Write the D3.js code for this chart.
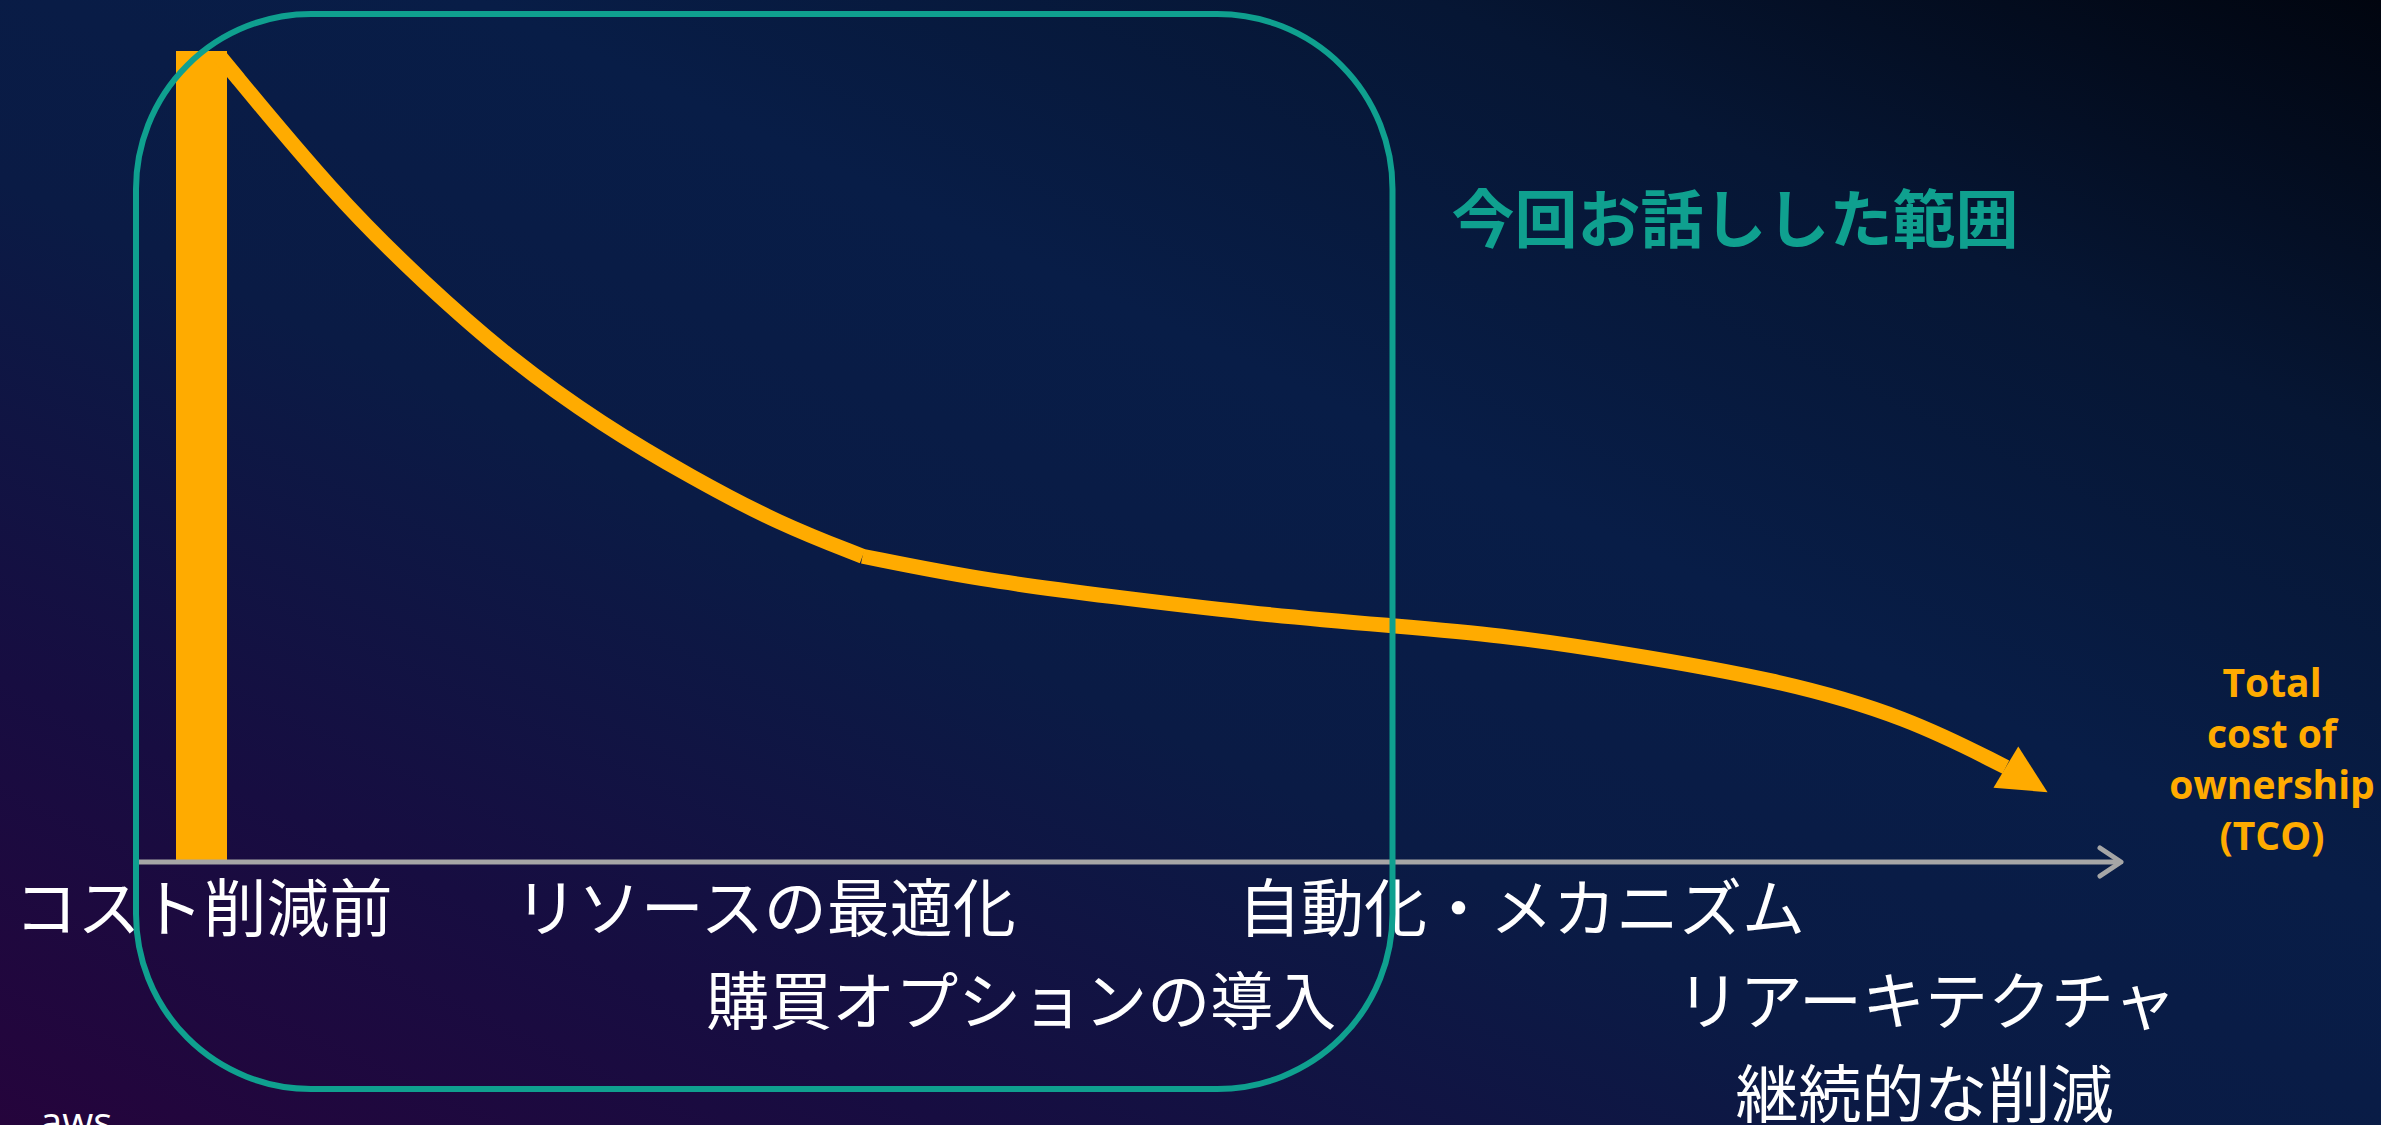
<!DOCTYPE html>
<html>
<head>
<meta charset="utf-8">
<script src="https://cdn.jsdelivr.net/npm/d3@7"></script>
<style>
  body { margin: 0; background: #0a1c45; overflow: hidden; }
</style>
</head>
<body>
<script>
const width = 2381;
const height = 1125;

// stages along the x axis (0..100 = time), row = which line the label sits on
const stages = ["コスト削減前", "リソースの最適化", "購買オプションの導入", "自動化・メカニズム", "リアーキテクチャ", "継続的な削減"];
const stageX = [3.4, 31.7, 44.6, 69.8, 90.2, 90.1];
const stageRow = [0, 0, 1, 0, 1, 2];

// cost before any reduction
const barX = 3.3;
const barValue = 100;

// TCO curve (relative cost 0..100)
const tcoX = [4.2, 10.0, 14.5, 18.9, 23.5, 28.0, 32.4, 36.6, 42.5, 49.2, 55.9, 63.4, 68.7, 74.6, 82.9, 89.2, 94.2, 96.3];
const tcoY = [99.4, 82.2, 71.4, 61.9, 53.9, 47.4, 41.7, 37.7, 34.8, 32.7, 30.7, 29.1, 28.0, 25.9, 22.4, 17.9, 11.7, 8.6];
const kink = 7;

// part of the timeline covered in the talk
const scope = [0, 63.3];
const scopeTitle = "今回お話しした範囲";
const tcoLabel = ["Total", "cost of", "ownership", "(TCO)"];

const orange = "#ffab00";
const teal = "#0fa08f";
const grey = "#a6a6a6";

const svg = d3.select("body").append("svg")
  .attr("width", width)
  .attr("height", height)
  .style("display", "block");

// background
const defs = svg.append("defs");
const bg = defs.append("linearGradient")
  .attr("id", "bg")
  .attr("x1", 0).attr("y1", 1).attr("x2", 1).attr("y2", 0);
[[0, "#25043c"], [0.2, "#170d41"], [0.42, "#0a1b45"], [0.6, "#081d47"], [0.8, "#061634"], [1, "#01050f"]]
  .forEach(([o, c]) => bg.append("stop").attr("offset", o).attr("stop-color", c));
svg.append("rect").attr("width", width).attr("height", height).attr("fill", "url(#bg)");

const x = d3.scaleLinear().domain([0, 100]).range([136, 2121]);
const y = d3.scaleLinear().domain([0, 100]).range([862, 51]);

// bar
svg.append("rect")
  .attr("x", x(barX) - 25.5)
  .attr("width", 51)
  .attr("y", y(barValue))
  .attr("height", y(0) - y(barValue))
  .attr("fill", orange);

// curve
const pts = tcoX.map((d, i) => [x(d), y(tcoY[i])]);
const line = d3.line().curve(d3.curveBasis);
const n = pts.length;
svg.append("path")
  .attr("d", line(pts.slice(0, kink + 1)))
  .attr("fill", "none").attr("stroke", orange).attr("stroke-width", 15);
svg.append("path")
  .attr("d", line(pts.slice(kink, n - 1)))
  .attr("fill", "none").attr("stroke", orange).attr("stroke-width", 15);

// arrow head on the curve
const tip = pts[n - 1], base = pts[n - 2];
const len = Math.hypot(tip[0] - base[0], tip[1] - base[1]);
const ux = (tip[0] - base[0]) / len, uy = (tip[1] - base[1]) / len;
const hw = 24;
svg.append("path")
  .attr("d", `M${tip[0]},${tip[1]}L${base[0] - uy * hw},${base[1] + ux * hw}L${base[0] + uy * hw},${base[1] - ux * hw}Z`)
  .attr("fill", orange);

// x axis
svg.append("line")
  .attr("x1", x(0)).attr("x2", x(100))
  .attr("y1", y(0)).attr("y2", y(0))
  .attr("stroke", grey).attr("stroke-width", 5);
svg.append("path")
  .attr("d", `M${x(100) - 21},${y(0) - 14}L${x(100)},${y(0)}L${x(100) - 21},${y(0) + 14}`)
  .attr("fill", "none").attr("stroke", grey).attr("stroke-width", 5)
  .attr("stroke-linecap", "round").attr("stroke-linejoin", "round");

// stage labels
const rowY = [931, 1024, 1117];
svg.selectAll("text.stage")
  .data(stages)
  .join("text")
  .attr("class", "stage")
  .attr("x", (d, i) => x(stageX[i]))
  .attr("y", (d, i) => rowY[stageRow[i]])
  .attr("text-anchor", "middle")
  .attr("font-family", "'Noto Sans CJK JP', sans-serif")
  .attr("font-weight", 400)
  .attr("font-size", 63)
  .attr("fill", "#ffffff")
  .text(d => d);

// scope box
const bx0 = x(scope[0]), bx1 = x(scope[1]), by0 = 14, by1 = 1089, r = 175;
svg.append("path")
  .attr("d", `M${bx0 + r},${by0}H${bx1 - r}A${r},${r} 0 0 1 ${bx1},${by0 + r}V${by1 - r}A${r},${r} 0 0 1 ${bx1 - r},${by1}H${bx0 + r}A${r},${r} 0 0 1 ${bx0},${by1 - r}V${by0 + r}A${r},${r} 0 0 1 ${bx0 + r},${by0}Z`)
  .attr("fill", "none").attr("stroke", teal).attr("stroke-width", 6);

svg.append("text")
  .attr("x", 1735).attr("y", 242)
  .attr("text-anchor", "middle")
  .attr("font-family", "'Noto Sans CJK JP', sans-serif")
  .attr("font-weight", 700)
  .attr("font-size", 63)
  .attr("fill", teal)
  .text(scopeTitle);

// TCO label
svg.append("text")
  .attr("text-anchor", "middle")
  .attr("font-family", "'Open Sans', sans-serif")
  .attr("font-weight", 700)
  .attr("font-size", 39)
  .attr("fill", orange)
  .selectAll("tspan")
  .data(tcoLabel)
  .join("tspan")
  .attr("x", 2272)
  .attr("y", (d, i) => 697 + i * 51)
  .text(d => d);

// logo
svg.append("text")
  .attr("x", 40).attr("y", 1136)
  .attr("font-family", "'Open Sans', sans-serif")
  .attr("font-size", 40)
  .attr("fill", "#ffffff")
  .text("aws");
</script>
</body>
</html>
